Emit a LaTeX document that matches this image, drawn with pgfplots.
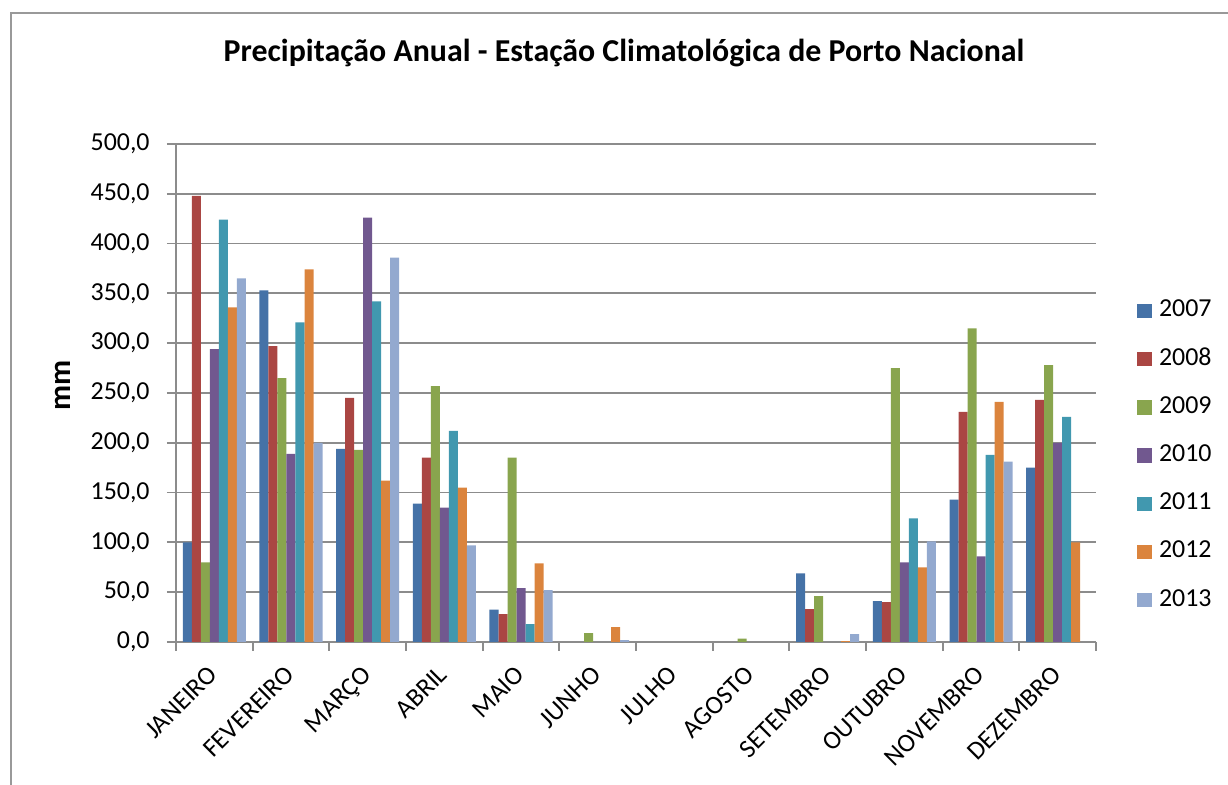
\documentclass[border=0pt]{standalone}
\usepackage{pgfplots}
\pgfplotsset{compat=1.18}
\usepackage{pgfplotstable}
\usepackage{fontspec}
\setmainfont{Carlito}
\definecolor{c07}{HTML}{4572A7}
\definecolor{c08}{HTML}{AA4643}
\definecolor{c09}{HTML}{89A54E}
\definecolor{c10}{HTML}{71588F}
\definecolor{c11}{HTML}{4198AF}
\definecolor{c12}{HTML}{DB843D}
\definecolor{c13}{HTML}{93A9CF}
\definecolor{gridgray}{HTML}{8C8C8C}
\pgfplotstableread{
x y07 y08 y09 y10 y11 y12 y13
0 100 448 80 294 424 336 365
1 353 297 265 189 321 374 200
2 194 245 193 426 342 162 386
3 139 185 257 135 212 155 97
4 32.5 28 185 54 18 79 52
5 0 0 9 0 0 15 2
6 0 0 0 0 0 0 0
7 0 0 3.4 0 0 0 0
8 69 33 46 0 0 0.8 8
9 41 40 275 80 124 75 101
10 143 231 315 86 188 241 181
11 175 243 278 200 226 100 0
}\data
\begin{document}
\begin{tikzpicture}
\path[use as bounding box] (-88bp,-71.5bp) rectangle (526bp,321bp);
\draw[color=gray!80, line width=0.8bp] (-82.5bp,-71.5bp) -- (-82.5bp,314.5bp) -- (526bp,314.5bp);
\begin{axis}[
  at={(0,0)}, anchor=south west, scale only axis,
  width=460bp, height=249bp,
  ymin=0, ymax=500, xmin=-0.5, xmax=11.5,
  ybar=0pt, bar width=0.1174,
  axis x line=bottom, axis y line=left,
  axis line style={-, draw=gridgray, line width=0.9bp},
  ymajorgrids, grid style={draw=gridgray, line width=0.9bp},
  ytick={0,50,...,500},
  xtick={-0.5,0.5,...,11.5}, xticklabels={},
  extra x ticks={0,1,2,3,4,5,6,7,8,9,10,11},
  extra x tick labels={JANEIRO,FEVEREIRO,MARÇO,ABRIL,MAIO,JUNHO,JULHO,AGOSTO,SETEMBRO,OUTUBRO,NOVEMBRO,DEZEMBRO},
  extra x tick style={major tick length=0pt, grid=none},
  tick align=outside, major tick length=4.5bp,
  tick style={draw=gridgray, line width=0.9bp},
  tick label style={font=\fontsize{13}{15}\selectfont},
  xticklabel style={xshift=-3.7bp, yshift=-11bp, rotate=45, anchor=north east, inner sep=0pt},
  yticklabel style={anchor=east, inner sep=0pt, xshift=-8.5bp,
    /pgf/number format/.cd, fixed, fixed zerofill, precision=1, use comma, 1000 sep={}, assume math mode=true},
  legend style={at={(axis description cs:1.0446,0.6896)}, anchor=north west, draw=none, fill=none,
    inner sep=0pt, row sep=12.1bp,
    nodes={inner sep=0pt, text height=9bp, text depth=3bp, font=\fontsize{13}{15}\selectfont},
    /tikz/every odd column/.style={column sep=3.5bp}},
  legend cell align=left,
  legend image code/.code={\fill[#1] (0bp,-3.6bp) rectangle (7.3bp,3.6bp);},
]
\addplot[fill=c07, draw=none] table[x=x, y=y07] {\data};
\addplot[fill=c08, draw=none] table[x=x, y=y08] {\data};
\addplot[fill=c09, draw=none] table[x=x, y=y09] {\data};
\addplot[fill=c10, draw=none] table[x=x, y=y10] {\data};
\addplot[fill=c11, draw=none] table[x=x, y=y11] {\data};
\addplot[fill=c12, draw=none] table[x=x, y=y12] {\data};
\addplot[fill=c13, draw=none] table[x=x, y=y13] {\data};
\legend{2007,2008,2009,2010,2011,2012,2013}
\end{axis}
\node[font=\fontsize{16}{19}\bfseries\selectfont] at (224bp,294.5bp) {Precipitação Anual - Estação Climatológica de Porto Nacional};
\node[rotate=90, font=\fontsize{15.5}{18}\bfseries\selectfont] at (-56.5bp,128.5bp) {mm};
\end{tikzpicture}
\end{document}
